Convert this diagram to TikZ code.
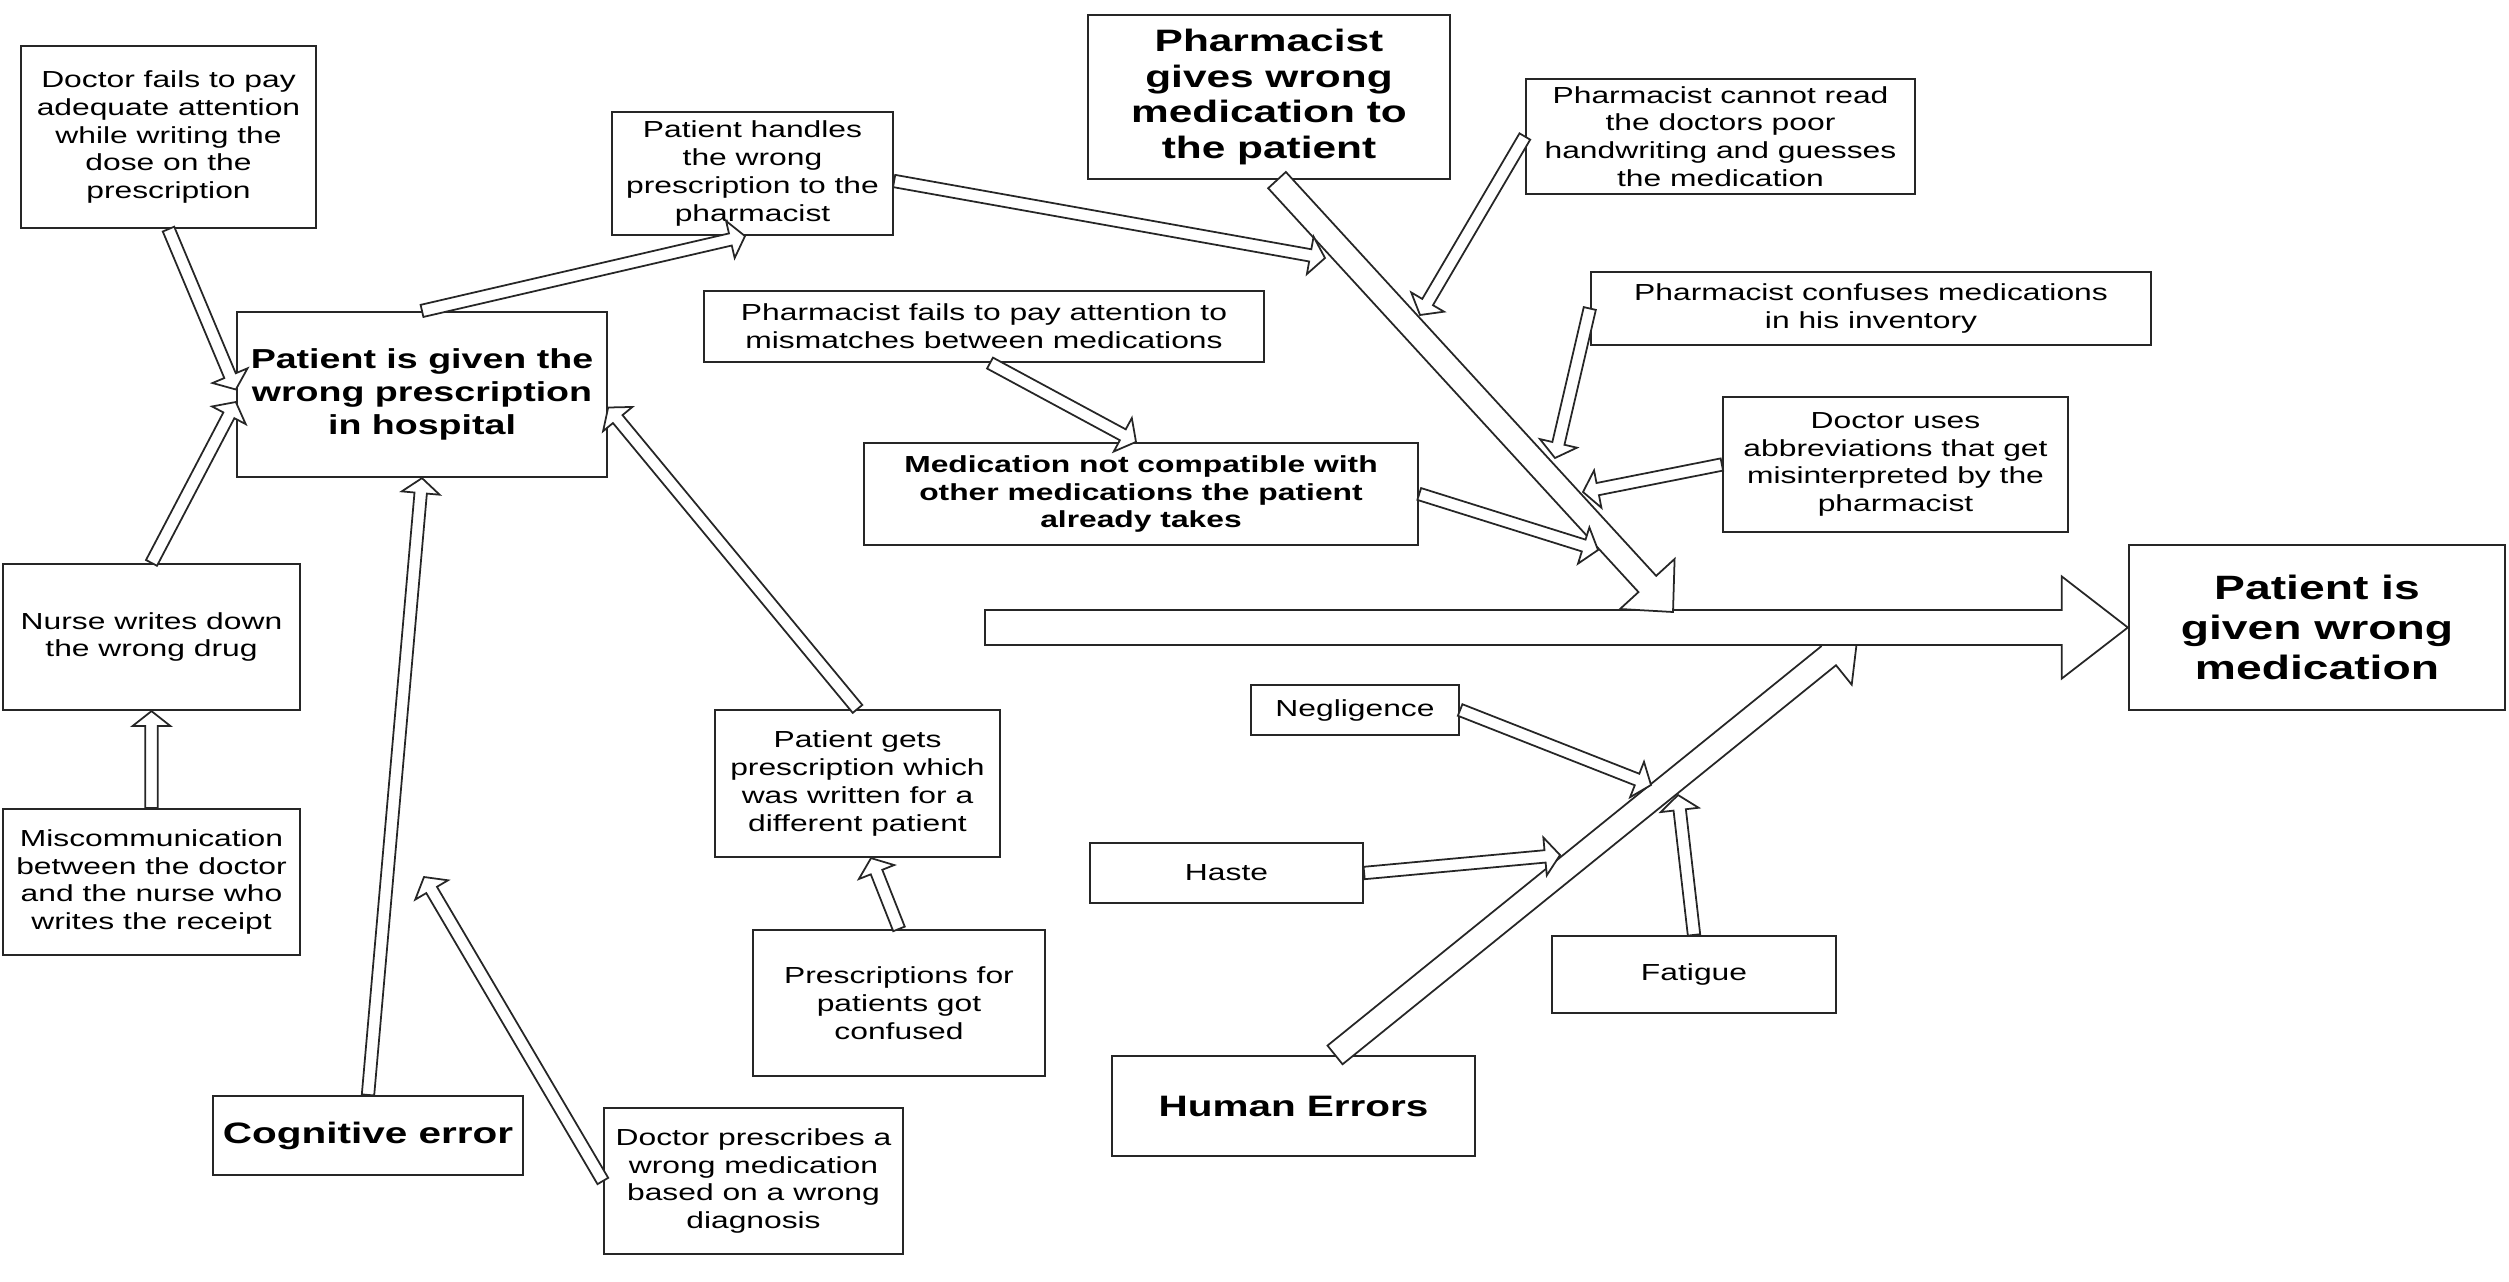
\documentclass[tikz,border=0pt]{standalone}
\usepackage{fontspec}
\setmainfont{Liberation Sans}[FakeStretch=1.37]
\usetikzlibrary{calc}

\tikzset{
  causebox/.style={draw=black!85, line width=0.6pt, fill=white, align=center, inner sep=1pt,
                   font=\fontsize{6.6}{7.9}\selectfont},
  mainbox/.style={causebox, font=\bfseries\fontsize{7.8}{9.4}\selectfont},
  hollow/.style={draw=black!85, fill=white, line width=0.5pt, line join=miter}
}

% hollow block arrow: shaft half width, head half width, head length, from, to
\newcommand{\hollowarrow}[5]{%
  \path ($(#5)!#3!(#4)$) coordinate (ah);
  \draw[hollow] ($(#4)!#1!90:(#5)$) -- ($(ah)!#1!90:(#5)$) -- ($(ah)!#2!90:(#5)$) -- (#5)
    -- ($(ah)!#2!-90:(#5)$) -- ($(ah)!#1!-90:(#5)$) -- ($(#4)!#1!-90:(#5)$) -- cycle;
}
\newcommand{\smallarrow}[2]{\hollowarrow{0.062cm}{0.19cm}{0.15cm}{#1}{#2}}
\newcommand{\bigarrow}[2]{\hollowarrow{0.12cm}{0.37cm}{0.38cm}{#1}{#2}}

\begin{document}
\begin{tikzpicture}[x=0.01cm,y=-0.01cm]
  \useasboundingbox (0,0) rectangle (2509,1282);

  % causes of the wrong prescription
  \node[causebox, minimum width=2.95cm, minimum height=1.82cm] (docfail) at (168.5,137) {Doctor fails to pay\\adequate attention\\while writing the\\dose on the\\prescription};
  \node[mainbox, minimum width=3.70cm, minimum height=1.65cm] (wrongpres) at (422,394.5) {Patient is given the\\wrong prescription\\in hospital};
  \node[causebox, minimum width=2.81cm, minimum height=1.23cm] (handles) at (752.5,173.5) {Patient handles\\the wrong\\prescription to the\\pharmacist};
  \node[causebox, minimum width=2.97cm, minimum height=1.46cm] (nurse) at (151.5,637) {Nurse writes down\\the wrong drug};
  \node[causebox, minimum width=2.97cm, minimum height=1.46cm] (miscomm) at (151.5,882) {Miscommunication\\between the doctor\\and the nurse who\\writes the receipt};
  \node[causebox, minimum width=2.85cm, minimum height=1.47cm] (diffpat) at (857.5,783.5) {Patient gets\\prescription which\\was written for a\\different patient};
  \node[causebox, minimum width=2.92cm, minimum height=1.46cm] (confused) at (899,1003) {Prescriptions for\\patients got\\confused};
  \node[mainbox, font=\bfseries\fontsize{8.4}{10}\selectfont, minimum width=3.10cm, minimum height=0.79cm] (cognitive) at (368,1135.5) {Cognitive error};
  \node[causebox, minimum width=2.99cm, minimum height=1.46cm] (wrongdiag) at (753.5,1181) {Doctor prescribes a\\wrong medication\\based on a wrong\\diagnosis};

  % pharmacist branch
  \node[mainbox, font=\bfseries\fontsize{8.8}{10.1}\selectfont, minimum width=3.62cm, minimum height=1.64cm] (pharmgive) at (1269,97) {Pharmacist\\gives wrong\\medication to\\the patient};
  \node[causebox, minimum width=3.89cm, minimum height=1.15cm] (cannotread) at (1720.5,136.5) {Pharmacist cannot read\\the doctors poor\\handwriting and guesses\\the medication};
  \node[causebox, minimum width=5.60cm, minimum height=0.73cm] (confuses) at (1871,308.5) {Pharmacist confuses medications\\in his inventory};
  \node[causebox, minimum width=5.60cm, minimum height=0.71cm] (failsattn) at (984,326.5) {Pharmacist fails to pay attention to\\mismatches between medications};
  \node[causebox, minimum width=3.45cm, minimum height=1.35cm] (abbrev) at (1895.5,464.5) {Doctor uses\\abbreviations that get\\misinterpreted by the\\pharmacist};
  \node[causebox, font=\bfseries\fontsize{6.6}{7.9}\selectfont, minimum width=5.54cm, minimum height=1.02cm] (notcompat) at (1141,494) {Medication not compatible with\\other medications the patient\\already takes};

  % effect and human errors
  \node[mainbox, font=\bfseries\fontsize{9.6}{11.4}\selectfont, minimum width=3.76cm, minimum height=1.65cm] (final) at (2317,627.5) {Patient is\\given wrong\\medication};
  \node[causebox, minimum width=2.08cm, minimum height=0.50cm] (negl) at (1355,710) {Negligence};
  \node[causebox, minimum width=2.73cm, minimum height=0.60cm] (haste) at (1226.5,873) {Haste};
  \node[causebox, minimum width=2.84cm, minimum height=0.77cm] (fatigue) at (1694,974.5) {Fatigue};
  \node[mainbox, font=\bfseries\fontsize{8.4}{10}\selectfont, minimum width=3.63cm, minimum height=1.00cm] (human) at (1293.5,1106) {Human Errors};

  % free arrow ends
  \coordinate (diagtip) at (424,877);
  \coordinate (handtip) at (1325,258);
  \coordinate (pharmtip) at (1673,612);
  \coordinate (readtip) at (1420,315);
  \coordinate (confusetip) at (1555,458);
  \coordinate (abbrevtip) at (1583,492);
  \coordinate (compattip) at (1598,550);
  \coordinate (humantip) at (1858,632);
  \coordinate (negltip) at (1651,785);
  \coordinate (hastetip) at (1560,855);
  \coordinate (fatiguetip) at (1678,795);
  \coordinate (spinestart) at (985,627.5);

  % left side arrows
  \smallarrow{docfail.south}{[yshift=0.05cm]wrongpres.west}
  \smallarrow{nurse.north}{[yshift=-0.075cm]wrongpres.west}
  \smallarrow{miscomm.north}{nurse.south}
  \smallarrow{cognitive.north}{wrongpres.south}
  \smallarrow{wrongdiag.west}{diagtip}
  \smallarrow{diffpat.north}{[yshift=-0.13cm]wrongpres.east}
  \smallarrow{confused.north}{[xshift=0.135cm]diffpat.south}
  \smallarrow{wrongpres.north}{[xshift=-0.075cm]handles.south}

  % spine and main branches
  \bigarrow{[xshift=0.415cm]human.north}{humantip}
  \hollowarrow{0.175cm}{0.51cm}{0.66cm}{spinestart}{final.west}
  \bigarrow{[xshift=0.08cm]pharmgive.south}{pharmtip}

  % small causes on the branches
  \smallarrow{[yshift=-0.075cm]handles.east}{handtip}
  \smallarrow{cannotread.west}{readtip}
  \smallarrow{confuses.west}{confusetip}
  \smallarrow{abbrev.west}{abbrevtip}
  \smallarrow{notcompat.east}{compattip}
  \smallarrow{[xshift=0.06cm]failsattn.south}{[xshift=-0.05cm]notcompat.north}
  \smallarrow{negl.east}{negltip}
  \smallarrow{haste.east}{hastetip}
  \smallarrow{fatigue.north}{fatiguetip}
\end{tikzpicture}
\end{document}
